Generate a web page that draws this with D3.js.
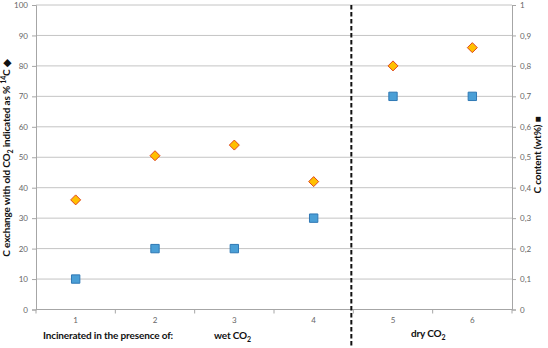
<!DOCTYPE html>
<html><head><meta charset="utf-8">
<script src="https://cdn.jsdelivr.net/npm/d3@7"></script>
<style>body{margin:0;background:#fff}svg{display:block}text{font-family:Lato,"Open Sans",sans-serif}</style>
</head><body><svg id="c" width="548" height="348"></svg>
<script>
const categories = ["1","2","3","4","5","6"];
const exchangePct = [36, 50.5, 54, 42, 80, 86];      // left axis, diamonds
const carbonContent = [0.1, 0.2, 0.2, 0.3, 0.7, 0.7]; // right axis, squares
const leftTicks = [0,10,20,30,40,50,60,70,80,90,100];
const rightTicks = [0,0.1,0.2,0.3,0.4,0.5,0.6,0.7,0.8,0.9,1];

const svg = d3.select("#c");
const L = 36, R = 512, T = 5, B = 309.5;
const x = d3.scaleBand().domain(categories).range([L, R]);
const yL = d3.scaleLinear().domain([0,100]).range([B, T]);
const yR = d3.scaleLinear().domain([0,1]).range([B, T]);

// gridlines
svg.append("g").selectAll("line").data(leftTicks.slice(1)).join("line")
  .attr("x1", L).attr("x2", R).attr("y1", d=>yL(d)).attr("y2", d=>yL(d))
  .attr("stroke", "#c4c4c4").attr("stroke-width", 1);

// left axis
const gL = svg.append("g").attr("transform", `translate(${L},0)`)
  .call(d3.axisLeft(yL).tickValues(leftTicks).tickSize(4).tickPadding(4));
// right axis
const gR = svg.append("g").attr("transform", `translate(${R},0)`)
  .call(d3.axisRight(yR).tickValues(rightTicks).tickSize(4).tickPadding(4)
    .tickFormat(d => String(d).replace(".", ",")));
// bottom axis
const gB = svg.append("g").attr("transform", `translate(0,${B})`)
  .call(d3.axisBottom(x).tickSize(0).tickPadding(8));
// boundary ticks
svg.append("g").selectAll("line").data(d3.range(categories.length+1)).join("line")
  .attr("x1", i => L + i*x.bandwidth()).attr("x2", i => L + i*x.bandwidth())
  .attr("y1", B).attr("y2", B+4).attr("stroke", "#a6a6a6");

[gL, gR, gB].forEach(g => {
  g.select(".domain").attr("stroke", "#a6a6a6");
  g.selectAll(".tick line").attr("stroke", "#a6a6a6");
  g.selectAll(".tick text").attr("fill", "#666").attr("font-size", "8px");
});
gB.select(".domain").attr("d", `M${L},0H${R}`);

// dashed divider between 4 and 5
const divX = x("5") - 2;
svg.append("line").attr("x1", divX).attr("x2", divX).attr("y1", T).attr("y2", 348)
  .attr("stroke", "#111").attr("stroke-width", 2).attr("stroke-dasharray", "4.5,2.5");

// squares
svg.append("g").selectAll("path").data(carbonContent).join("path")
  .attr("d", d3.symbol(d3.symbolSquare, 70)())
  .attr("transform", (d,i) => `translate(${x(categories[i]) + x.bandwidth()/2},${yR(d)})`)
  .attr("fill", "#4a9fd6").attr("stroke", "#2f78b4").attr("stroke-width", 1);

// diamonds
svg.append("g").selectAll("path").data(exchangePct).join("path")
  .attr("d", "M0,-5L5,0L0,5L-5,0Z")
  .attr("transform", (d,i) => `translate(${x(categories[i]) + x.bandwidth()/2},${yL(d)})`)
  .attr("fill", "#ffc000").attr("stroke", "#e0461e").attr("stroke-width", 1);

const FS = "10px", SUBFS = "7px";
// bottom labels
const lab = (tx, ty, parts) => {
  const t = svg.append("text").attr("x", tx).attr("y", ty)
    .attr("font-size", FS).attr("font-weight", "bold").attr("fill", "#111")
    .attr("letter-spacing", "-0.15px");
  parts.forEach(p => {
    const s = t.append("tspan").text(p.t);
    if (p.sub) s.attr("font-size", SUBFS).attr("dy", 2.5);
  });
  return t;
};
lab(43, 339, [{t:"Incinerated in the presence of:"}]);
lab(214, 339, [{t:"wet CO"},{t:"2", sub:true}]);
lab(411, 337, [{t:"dry CO"},{t:"2", sub:true}]);

// left title
const lt = svg.append("text").attr("transform", "translate(10,158) rotate(-90)")
  .attr("text-anchor", "middle").attr("font-size", FS).attr("font-weight", "bold").attr("fill", "#111")
  .attr("letter-spacing", "-0.15px");
lt.append("tspan").text("C exchange with old CO");
lt.append("tspan").text("2").attr("font-size", SUBFS).attr("dy", 2.5);
lt.append("tspan").text(" indicated as % ").attr("dy", -2.5);
lt.append("tspan").text("14").attr("font-size", SUBFS).attr("dy", -4);
lt.append("tspan").text("C ◆").attr("dy", 4);

// right title
svg.append("text").attr("transform", "translate(541,155) rotate(-90)")
  .attr("text-anchor", "middle").attr("font-size", FS).attr("font-weight", "bold").attr("fill", "#111")
  .attr("letter-spacing", "-0.15px")
  .text("C content (wt%) ■");
</script></body></html>
